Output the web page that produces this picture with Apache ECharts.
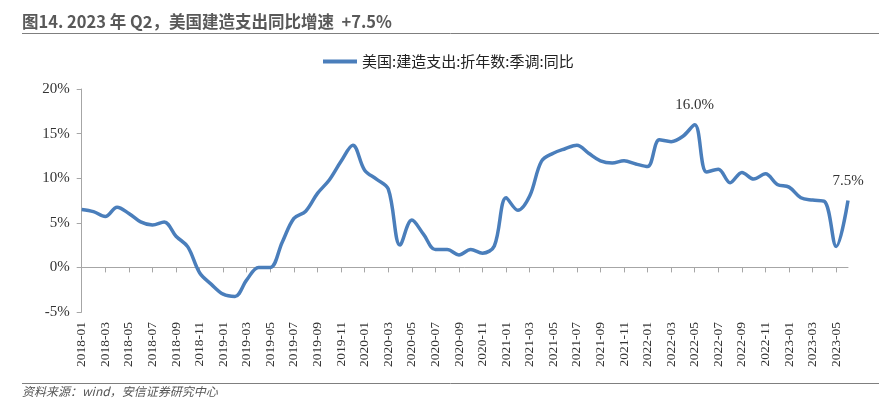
<!DOCTYPE html>
<html>
<head>
<meta charset="utf-8">
<script src="https://cdn.jsdelivr.net/npm/echarts@6/dist/echarts.min.js"></script>
<style>
html,body{margin:0;padding:0;background:#fff;}
#c{width:879px;height:410px;}
</style>
</head>
<body>
<div id="c"></div>
<script>
// ---- data ----
var categories = [];
(function(){
  for (var y = 2018; y <= 2023; y++) {
    for (var m = 1; m <= 12; m++) {
      if (y === 2023 && m > 6) break;
      categories.push(y + '-' + (m < 10 ? '0' + m : m));
    }
  }
})();
var seriesName = '美国:建造支出:折年数:季调:同比';
var values = [
  6.5, 6.25, 5.7, 6.75, 6.05, 5.1, 4.75, 5.1, 3.5, 2.3, -0.6, -1.9,
  -3.0, -3.25, -1.4, 0.0, 0.0, 2.8, 5.5, 6.3, 8.3, 9.8, 11.9, 13.7,
  10.9, 9.9, 8.8, 2.5, 5.3, 3.7, 2.0, 2.0, 1.4, 2.0, 1.6, 2.4,
  7.8, 6.4, 8.0, 11.9, 12.8, 13.3, 13.7, 12.8, 11.95, 11.7, 11.95, 11.6,
  11.3, 14.3, 14.1, 14.7, 16.0, 10.7, 11.0, 9.5, 10.65, 9.9, 10.5, 9.3,
  9.0, 7.8, 7.55, 7.4, 2.35, 7.5
];
var labeledIndices = [52, 65];
var yTicks = {min: -5, max: 20, interval: 5};
var titleText = '图14. 2023 年 Q2，美国建造支出同比增速  +7.5%';
var sourceText = '资料来源：wind，安信证券研究中心';

// ---- chart ----
var serif = '"Liberation Serif","Times New Roman",serif';
var cjk = '"Noto Sans CJK SC","Noto Sans CJK JP",sans-serif';
var lineColor = '#4A7EBB';

var seriesData = values.map(function(v, i){
  if (labeledIndices.indexOf(i) >= 0) {
    return {value: v, label: {show: true, position: 'top', distance: 12,
      formatter: function(p){ return Number(p.value).toFixed(1) + '%'; },
      fontFamily: serif, fontSize: 15, color: '#333'}};
  }
  return v;
});

var chart = echarts.init(document.getElementById('c'), null, {renderer: 'canvas'});
chart.setOption({
  animation: false,
  backgroundColor: '#fff',
  graphic: [
    {type: 'text', left: 22, top: 13, style: {text: titleText, font: 'bold 16.5px ' + cjk, fill: '#595959'}},
    {type: 'line', shape: {x1: 22, y1: 33.5, x2: 879, y2: 33.5}, style: {stroke: '#7f7f7f', lineWidth: 1}},
    {type: 'line', shape: {x1: 22, y1: 383.5, x2: 879, y2: 383.5}, style: {stroke: '#7f7f7f', lineWidth: 1}},
    {type: 'text', left: 22, top: 385, style: {text: sourceText, font: 'italic 12px ' + cjk, fill: '#555'}}
  ],
  legend: {
    top: 49, left: 318,
    icon: 'rect', itemWidth: 34, itemHeight: 4, itemGap: 5,
    textStyle: {fontFamily: cjk, fontSize: 15, color: '#222'},
    data: [seriesName]
  },
  grid: {left: 81.7, right: 31, top: 89, bottom: 98, containLabel: false},
  xAxis: [
    {
      type: 'category', data: categories, boundaryGap: false,
      axisLine: {onZero: true, lineStyle: {color: '#a6a6a6', width: 1}},
      axisTick: {show: true, interval: 1, length: 5, lineStyle: {color: '#a6a6a6'}},
      axisLabel: {show: false},
      splitLine: {show: false}
    },
    {
      type: 'category', data: categories, boundaryGap: false, position: 'bottom',
      axisLine: {show: false, onZero: false},
      axisTick: {show: false},
      axisLabel: {show: true, interval: 1, rotate: 90, margin: 10,
        fontFamily: serif, fontSize: 13.5, color: '#333'},
      splitLine: {show: false}
    }
  ],
  yAxis: {
    type: 'value', min: yTicks.min, max: yTicks.max, interval: yTicks.interval,
    axisLine: {show: true, lineStyle: {color: '#a6a6a6', width: 1}},
    axisTick: {show: true, length: 5, lineStyle: {color: '#a6a6a6'}},
    axisLabel: {formatter: '{value}%', fontFamily: serif, fontSize: 15, color: '#333', margin: 12},
    splitLine: {show: false}
  },
  series: [{
    name: seriesName, type: 'line', xAxisIndex: 0,
    data: seriesData, smooth: 0.35, showSymbol: true, symbol: 'circle', symbolSize: 0.1,
    lineStyle: {color: lineColor, width: 3.5},
    itemStyle: {color: lineColor}
  }]
});
</script>
</body>
</html>
